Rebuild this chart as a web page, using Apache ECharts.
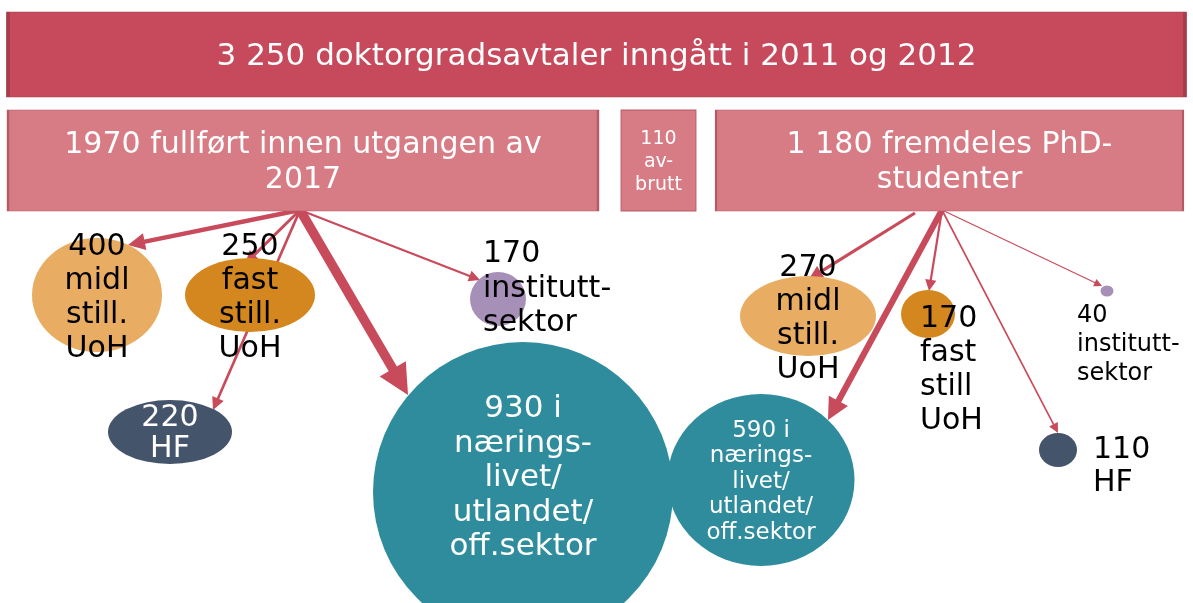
<!DOCTYPE html>
<html>
<head>
<meta charset="utf-8">
<script src="https://cdn.jsdelivr.net/npm/echarts/dist/echarts.min.js"></script>
<style>
html, body { margin: 0; padding: 0; background: #fff; }
#chart { width: 1193px; height: 603px; }
</style>
</head>
<body>
<div id="chart"></div>
<script>
// total number of agreements and where they stand
var totalAgreements = 3250;
var totalLabel = '3 250 doktorgradsavtaler inngått i 2011 og 2012';
var statusKeys = ['done', 'quit', 'stud'];
var statusValues = [1970, 110, 1180];
var statusLabels = ['1970 fullført innen utgangen av\n2017', '110\nav-\nbrutt', '1 180 fremdeles PhD-\nstudenter'];

// where the candidates that finished work
var doneKeys = ['midl', 'fast', 'hf', 'inst', 'naer'];
var doneValues = [400, 250, 220, 170, 930];
var doneLabels = ['400\nmidl\nstill.\nUoH', '250\nfast\nstill.\nUoH', '220\nHF', '170\ninstitutt-\nsektor', '930 i\nnærings-\nlivet/\nutlandet/\noff.sektor'];

// where the ones still studying work
var studKeys = ['midl', 'fast', 'hf', 'inst', 'naer'];
var studValues = [270, 170, 110, 40, 590];
var studLabels = ['270\nmidl\nstill.\nUoH', '170\nfast\nstill\nUoH', '110\nHF', '40\ninstitutt-\nsektor', '590 i\nnærings-\nlivet/\nutlandet/\noff.sektor'];

// ---- layout (pixels) ----
var font = 'DejaVu Sans, Verdana, sans-serif';
var arrowColor = '#c84b5c';

var boxLayout = {
  total: { x: 8, y: 12, w: 1177, h: 85, color: '#c64a5b', border: '#a63d4c', size: 31, lh: 36, off: [0, 2] },
  done: { x: 8, y: 110, w: 590, h: 101, color: '#d77b84', border: '#b45a66', size: 30, lh: 35, off: [0, 2] },
  quit: { x: 621, y: 110, w: 75, h: 101, color: '#d77b84', border: '#b45a66', size: 19, lh: 23, off: [0, 2] },
  stud: { x: 716, y: 110, w: 467, h: 101, color: '#d77b84', border: '#b45a66', size: 30, lh: 35, off: [0, 2] }
};

var nodeLayout = {
  'done-midl': { c: [97, 295], s: [130, 114], color: '#e8ad63', text: '#000', size: 30, lh: 34, off: [0, 3], align: 'center' },
  'done-fast': { c: [250, 295], s: [130, 74], color: '#d4871f', text: '#000', size: 30, lh: 34, off: [0, 3], align: 'center' },
  'done-hf': { c: [170, 432], s: [124, 64], color: '#44546a', text: '#fff', size: 30, lh: 31, off: [0, 2], align: 'center' },
  'done-inst': { c: [498, 299], s: [56, 54], color: '#a690b8', text: '#000', size: 30, lh: 34.5, off: [-15, -10], align: 'left' },
  'done-naer': { c: [523, 492], s: [300, 300], color: '#2e8c9c', text: '#fff', size: 31, lh: 34.5, off: [0, -14], align: 'center' },
  'stud-midl': { c: [808, 316], s: [136, 80], color: '#e8ad63', text: '#000', size: 30, lh: 34, off: [0, 3], align: 'center' },
  'stud-fast': { c: [928, 314], s: [54, 48], color: '#d4871f', text: '#000', size: 30, lh: 34, off: [-8, 56], align: 'left' },
  'stud-hf': { c: [1058, 450], s: [38, 34], color: '#44546a', text: '#000', size: 30, lh: 33, off: [35, 17], align: 'left' },
  'stud-inst': { c: [1107, 291], s: [13, 11], color: '#a690b8', text: '#000', size: 24, lh: 29, off: [-30, 54], align: 'left' },
  'stud-naer': { c: [761, 480], s: [187, 172], color: '#2e8c9c', text: '#fff', size: 23, lh: 25.5, off: [0, 2], align: 'center' }
};

// arrow start and tip
var arrowLayout = {
  'done-midl': { from: [300, 210], tip: [128, 245] },
  'done-fast': { from: [300, 210], tip: [245, 264] },
  'done-hf': { from: [300, 210], tip: [213, 410] },
  'done-inst': { from: [300, 210], tip: [480, 280] },
  'done-naer': { from: [300, 210], tip: [408, 395] },
  'stud-midl': { from: [915, 213], tip: [809, 279] },
  'stud-fast': { from: [942, 210], tip: [929, 291] },
  'stud-hf': { from: [942, 210], tip: [1058, 433] },
  'stud-inst': { from: [942, 210], tip: [1102, 286] },
  'stud-naer': { from: [942, 210], tip: [828, 420] }
};

var nodes = [];
var links = [];

function addBox(key, label) {
  var b = boxLayout[key];
  nodes.push({
    name: 'box-' + key,
    value: [b.x + b.w / 2, b.y + b.h / 2],
    symbol: 'rect',
    symbolSize: [b.w, b.h],
    itemStyle: { color: b.color, borderColor: b.border, borderWidth: 1 },
    label: { show: true, position: 'inside', formatter: label, color: '#fff', fontFamily: font, fontSize: b.size, lineHeight: b.lh, offset: b.off, align: 'center' }
  });
}

addBox('total', totalLabel);
statusKeys.forEach(function (k, i) { addBox(k, statusLabels[i]); });

function addOutcome(group, keys, values, labels) {
  keys.forEach(function (k, i) {
    var id = group + '-' + k;
    var n = nodeLayout[id];
    nodes.push({
      name: id,
      value: [n.c[0], n.c[1]],
      symbol: 'circle',
      symbolSize: n.s,
      itemStyle: { color: n.color },
      label: { show: true, position: 'inside', formatter: labels[i], color: n.text, fontFamily: font, fontSize: n.size, lineHeight: n.lh, offset: n.off, align: n.align }
    });
    // arrow width and head follow the count
    var a = arrowLayout[id];
    var v = values[i];
    var width = Math.max(1.2, v / 105 + 0.6);
    var head = 7 + v / 40;
    var dx = a.tip[0] - a.from[0], dy = a.tip[1] - a.from[1];
    var len = Math.sqrt(dx * dx + dy * dy);
    nodes.push({ name: 'from-' + id, value: a.from, symbolSize: 0, itemStyle: { opacity: 0 }, label: { show: false } });
    nodes.push({
      name: 'tip-' + id,
      value: [a.tip[0] - dx / len * head / 2, a.tip[1] - dy / len * head / 2],
      symbolSize: 0, itemStyle: { opacity: 0 }, label: { show: false }
    });
    links.push({
      source: 'from-' + id,
      target: 'tip-' + id,
      symbol: ['none', 'triangle'],
      symbolSize: [head * 0.9, head],
      lineStyle: { width: width, color: arrowColor, opacity: 1, curveness: 0 }
    });
  });
}

addOutcome('done', doneKeys, doneValues, doneLabels);
addOutcome('stud', studKeys, studValues, studLabels);

var chart = echarts.init(document.getElementById('chart'));
chart.setOption({
  animation: false,
  grid: { left: 0, right: 0, top: 0, bottom: 0 },
  xAxis: { type: 'value', min: 0, max: 1193, show: false },
  yAxis: { type: 'value', min: 0, max: 603, inverse: true, show: false },
  series: [{
    type: 'graph',
    coordinateSystem: 'cartesian2d',
    silent: true,
    data: nodes,
    links: links,
    lineStyle: { color: arrowColor, opacity: 1 }
  }]
});
</script>
</body>
</html>
